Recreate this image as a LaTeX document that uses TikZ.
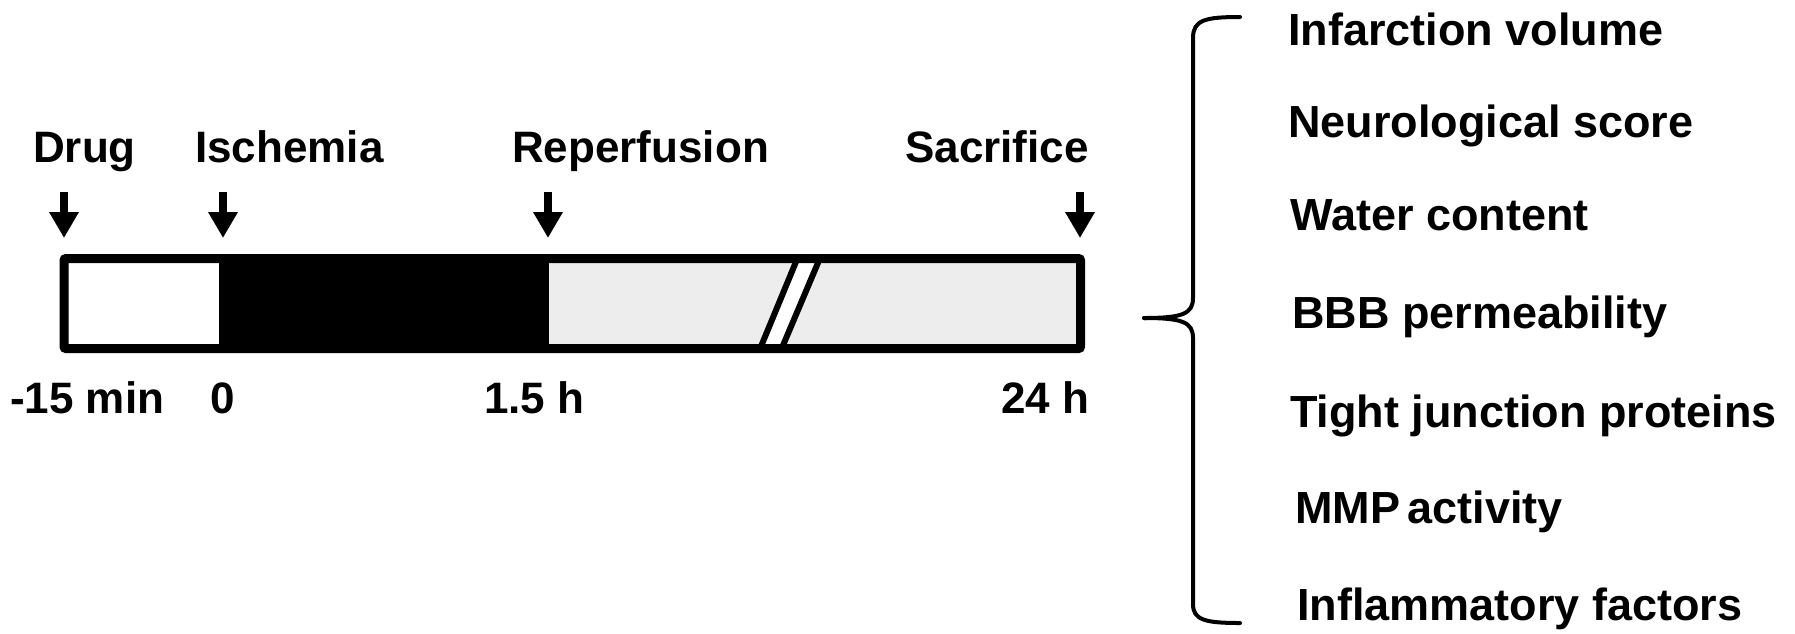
\documentclass[tikz,border=0pt]{standalone}
\usepackage{fontspec}
\setmainfont{Liberation Sans}
\usetikzlibrary{arrows.meta}
\definecolor{lightbar}{HTML}{EDEDED}
\begin{document}
\begin{tikzpicture}[x=1pt,y=-1pt,
  toplab/.style={font=\fontsize{44}{50}\selectfont\bfseries, inner sep=0pt, anchor=base west},
  botlab/.style={font=\fontsize{44}{50}\selectfont\bfseries, inner sep=0pt, anchor=base west},
  rlab/.style={font=\fontsize{45}{52}\selectfont\bfseries, inner sep=0pt, anchor=base west},
  darrow/.style={line width=8pt, -{Triangle[width=28pt,length=26pt]}},
  brace/.style={line width=4pt, line cap=round}]
\useasboundingbox (0,0) rectangle (1795,633);
% top labels
\node[toplab] (drug) at (33,162) {Drug};
\node[toplab] (isch) at (195,162) {Ischemia};
\node[toplab] (rep) at (512,162) {Reperfusion};
\node[toplab] (sac) at (905,162) {Sacrifice};
% arrows
\coordinate (d1) at (64,192); \coordinate (d2) at (64,238);
\coordinate (i1) at (223,192); \coordinate (i2) at (223,238);
\coordinate (r1) at (548,192); \coordinate (r2) at (548,238);
\coordinate (s1) at (1080,192); \coordinate (s2) at (1080,238);
\draw[darrow] (d1) -- (d2);
\draw[darrow] (i1) -- (i2);
\draw[darrow] (r1) -- (r2);
\draw[darrow] (s1) -- (s2);
% bar
\fill[white] (64,258.5) rectangle (219,348.5);
\fill[black] (219,258.5) rectangle (549,348.5);
\fill[lightbar] (549,258.5) rectangle (1080.5,348.5);
\begin{scope}
\clip (64,258.5) rectangle (1080.5,348.5);
\fill[white] (760,349) -- (781.5,349) -- (820,258) -- (797.5,258) -- cycle;
\draw[line width=6pt] (758.5,352.5) -- (799,254.5);
\draw[line width=6pt] (780,352.5) -- (821.5,254.5);
\end{scope}
\draw[line width=9pt, rounded corners=2pt] (64,258.5) rectangle (1080.5,348.5);
% bottom labels
\node[botlab] (t0) at (10,413) {-15 min};
\node[botlab] (t1) at (210,413) {0};
\node[botlab] (t2) at (484,413) {1.5 h};
\node[botlab] (t3) at (1001,413) {24 h};
% brace
\draw[brace] (1240,17) .. controls (1205,17) and (1193,20) .. (1193,38) -- (1193,298)
  .. controls (1193,314) and (1182,318) .. (1144,318);
\draw[brace] (1144,318) .. controls (1182,318) and (1193,322) .. (1193,338) -- (1193,604)
  .. controls (1193,620) and (1205,623) .. (1240,623);
% right labels
\node[rlab] (o1) at (1288,45) {Infarction volume};
\node[rlab] (o2) at (1288,137) {Neurological score};
\node[rlab] (o3) at (1290,230) {Water content};
\node[rlab] (o4) at (1292,328) {BBB permeability};
\node[rlab] (o5) at (1290,427) {Tight junction proteins};
\node[rlab] (o6) at (1295,523) {MMP\,activity};
\node[rlab] (o7) at (1297,620) {Inflammatory factors};
\end{tikzpicture}
\end{document}
